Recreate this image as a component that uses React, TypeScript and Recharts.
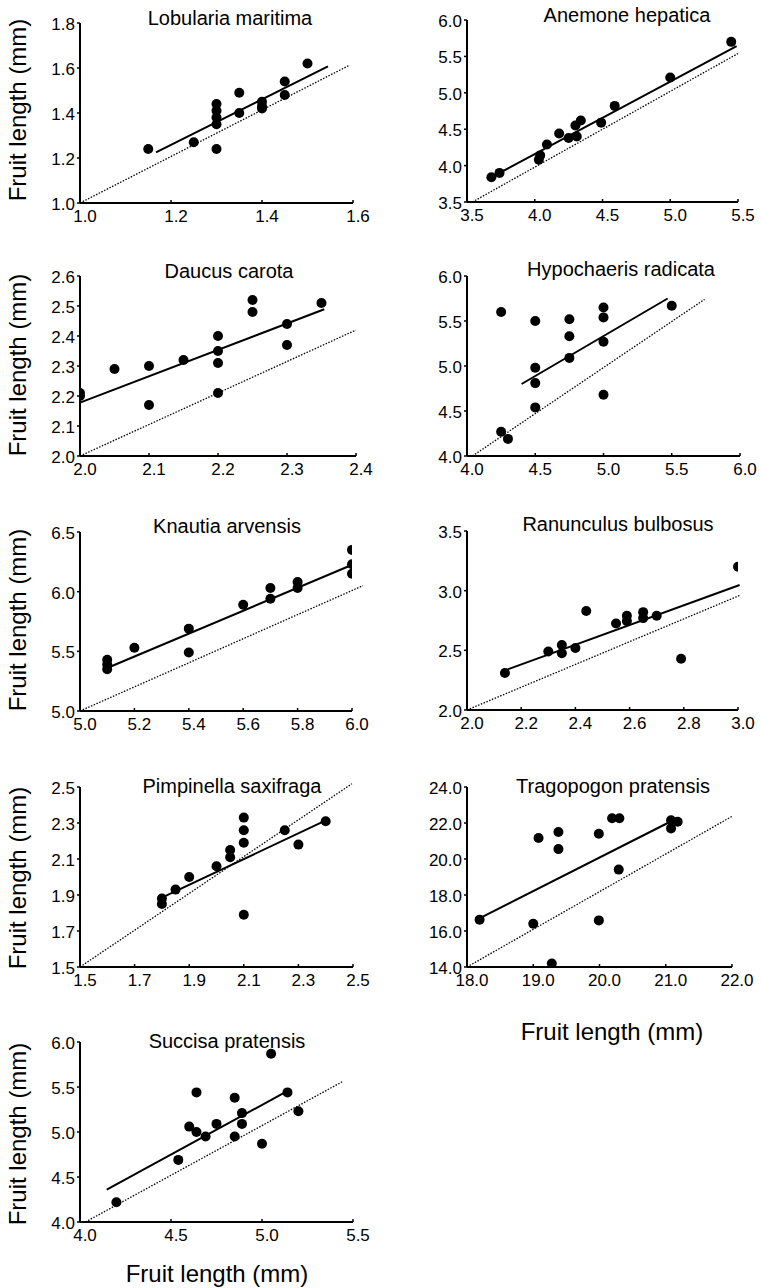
import React from 'react';
import { ScatterChart, Scatter, XAxis, YAxis, ReferenceLine } from 'recharts';

// Lobularia maritima
const lobulariaX = [1.15, 1.25, 1.3, 1.3, 1.3, 1.3, 1.3, 1.35, 1.35, 1.4, 1.4, 1.4, 1.45, 1.45, 1.5];
const lobulariaY = [1.24, 1.27, 1.24, 1.44, 1.41, 1.38, 1.35, 1.49, 1.4, 1.45, 1.43, 1.42, 1.54, 1.48, 1.62];
const lobulariaFitX = [1.167, 1.545];
const lobulariaFitY = [1.225, 1.607];
const lobulariaRefX = [1.0, 1.59];
const lobulariaRefY = [1.0, 1.61];
const lobulariaXTicks = [1.0, 1.2, 1.4, 1.6];
const lobulariaYTicks = [1.0, 1.2, 1.4, 1.6, 1.8];

// Anemone hepatica
const anemoneX = [3.68, 3.74, 4.03, 4.04, 4.09, 4.18, 4.25, 4.31, 4.3, 4.34, 4.49, 4.59, 5.0, 5.45];
const anemoneY = [3.84, 3.9, 4.08, 4.14, 4.29, 4.44, 4.38, 4.4, 4.55, 4.62, 4.59, 4.82, 5.21, 5.7];
const anemoneFitX = [3.67, 5.49];
const anemoneFitY = [3.83, 5.64];
const anemoneRefX = [3.54, 5.5];
const anemoneRefY = [3.5, 5.54];
const anemoneXTicks = [3.5, 4.0, 4.5, 5.0, 5.5];
const anemoneYTicks = [3.5, 4.0, 4.5, 5.0, 5.5, 6.0];

// Daucus carota
const daucusX = [2.0, 2.0, 2.05, 2.1, 2.1, 2.15, 2.2, 2.2, 2.2, 2.2, 2.25, 2.25, 2.3, 2.3, 2.35];
const daucusY = [2.21, 2.2, 2.29, 2.3, 2.17, 2.32, 2.4, 2.35, 2.31, 2.21, 2.52, 2.48, 2.44, 2.37, 2.51];
const daucusFitX = [2.0, 2.354];
const daucusFitY = [2.178, 2.489];
const daucusRefX = [2.0, 2.4];
const daucusRefY = [2.0, 2.42];
const daucusXTicks = [2.0, 2.1, 2.2, 2.3, 2.4];
const daucusYTicks = [2.0, 2.1, 2.2, 2.3, 2.4, 2.5, 2.6];

// Hypochaeris radicata
const hypochaerisX = [4.25, 4.25, 4.3, 4.5, 4.5, 4.5, 4.5, 4.75, 4.75, 4.75, 5.0, 5.0, 5.0, 5.0, 5.5];
const hypochaerisY = [5.6, 4.27, 4.19, 5.5, 4.98, 4.81, 4.54, 5.52, 5.33, 5.09, 5.65, 5.54, 5.27, 4.68, 5.67];
const hypochaerisFitX = [4.4, 5.47];
const hypochaerisFitY = [4.8, 5.75];
const hypochaerisRefX = [4.04, 5.74];
const hypochaerisRefY = [4.0, 5.74];
const hypochaerisXTicks = [4.0, 4.5, 5.0, 5.5, 6.0];
const hypochaerisYTicks = [4.0, 4.5, 5.0, 5.5, 6.0];

// Knautia arvensis
const knautiaX = [5.1, 5.1, 5.1, 5.2, 5.4, 5.4, 5.6, 5.7, 5.7, 5.8, 5.8, 6.0, 6.0, 6.0];
const knautiaY = [5.43, 5.39, 5.35, 5.53, 5.69, 5.49, 5.89, 6.03, 5.94, 6.08, 6.03, 6.35, 6.23, 6.15];
const knautiaFitX = [5.1, 5.99];
const knautiaFitY = [5.36, 6.215];
const knautiaRefX = [5.0, 6.04];
const knautiaRefY = [5.0, 6.05];
const knautiaXTicks = [5.0, 5.2, 5.4, 5.6, 5.8, 6.0];
const knautiaYTicks = [5.0, 5.5, 6.0, 6.5];

// Ranunculus bulbosus
const ranunculusX = [2.14, 2.3, 2.35, 2.35, 2.4, 2.44, 2.55, 2.59, 2.59, 2.65, 2.65, 2.7, 2.79, 3.0];
const ranunculusY = [2.31, 2.49, 2.545, 2.475, 2.52, 2.83, 2.725, 2.79, 2.745, 2.82, 2.77, 2.79, 2.43, 3.2];
const ranunculusFitX = [2.15, 3.006];
const ranunculusFitY = [2.34, 3.047];
const ranunculusRefX = [2.0, 3.006];
const ranunculusRefY = [2.0, 2.96];
const ranunculusXTicks = [2.0, 2.2, 2.4, 2.6, 2.8, 3.0];
const ranunculusYTicks = [2.0, 2.5, 3.0, 3.5];

// Pimpinella saxifraga
const pimpinellaX = [1.8, 1.8, 1.85, 1.9, 2.0, 2.05, 2.05, 2.1, 2.1, 2.1, 2.1, 2.25, 2.3, 2.4];
const pimpinellaY = [1.88, 1.85, 1.93, 2.0, 2.06, 2.15, 2.11, 2.33, 2.26, 2.19, 1.79, 2.26, 2.18, 2.31];
const pimpinellaFitX = [1.8, 2.408];
const pimpinellaFitY = [1.885, 2.32];
const pimpinellaRefX = [1.5, 2.496];
const pimpinellaRefY = [1.5, 2.518];
const pimpinellaXTicks = [1.5, 1.7, 1.9, 2.1, 2.3, 2.5];
const pimpinellaYTicks = [1.5, 1.7, 1.9, 2.1, 2.3, 2.5];

// Tragopogon pratensis
const tragopogonX = [18.19, 19.0, 19.08, 19.28, 19.38, 19.38, 19.99, 19.99, 20.19, 20.3, 20.29, 21.08, 21.08, 21.18];
const tragopogonY = [16.63, 16.4, 21.17, 14.19, 21.5, 20.55, 21.4, 16.59, 22.26, 22.26, 19.41, 22.15, 21.7, 22.07];
const tragopogonFitX = [18.15, 21.03];
const tragopogonFitY = [16.63, 22.0];
const tragopogonRefX = [18.0, 22.0];
const tragopogonRefY = [14.0, 22.37];
const tragopogonXTicks = [18.0, 19.0, 20.0, 21.0, 22.0];
const tragopogonYTicks = [14.0, 16.0, 18.0, 20.0, 22.0, 24.0];

// Succisa pratensis
const succisaX = [4.2, 4.54, 4.6, 4.64, 4.64, 4.69, 4.75, 4.85, 4.85, 4.89, 4.89, 5.0, 5.05, 5.14, 5.2];
const succisaY = [4.22, 4.69, 5.06, 5.44, 5.0, 4.95, 5.09, 5.38, 4.95, 5.21, 5.09, 4.87, 5.87, 5.44, 5.23];
const succisaFitX = [4.147, 5.126];
const succisaFitY = [4.36, 5.44];
const succisaRefX = [4.03, 5.447];
const succisaRefY = [4.0, 5.565];
const succisaXTicks = [4.0, 4.5, 5.0, 5.5];
const succisaYTicks = [4.0, 4.5, 5.0, 5.5, 6.0];

const FONT = '"Liberation Sans", Arial, Helvetica, sans-serif';
const AXIS_TITLE = 'Fruit length (mm)';

// chart margins around the plot box (left = margin.left + YAxis width, bottom = margin.bottom + XAxis height)
const ML = 50;
const MT = 30;
const MR = 25;
const MB = 30;

const XTick = (props: any) => {
  const { x, y, payload } = props;
  return (
    <g>
      <line x1={x} y1={y} x2={x} y2={y - 3} stroke="#000" strokeWidth={1.5} />
      <text x={x + 5} y={y + 19} textAnchor="middle" fontSize={17} fontFamily={FONT} fill="#000">
        {Number(payload.value).toFixed(1)}
      </text>
    </g>
  );
};

const YTick = (props: any) => {
  const { x, y, payload } = props;
  return (
    <g>
      <line x1={x} y1={y} x2={x - 3} y2={y} stroke="#000" strokeWidth={1.5} />
      <text x={x - 5} y={y + 7} textAnchor="end" fontSize={17} fontFamily={FONT} fill="#000">
        {Number(payload.value).toFixed(1)}
      </text>
    </g>
  );
};

const Dot = (props: any) => <circle cx={props.cx} cy={props.cy} r={5} fill="#000" />;

interface PanelProps {
  xs: number[];
  ys: number[];
  fitX: number[];
  fitY: number[];
  refX: number[];
  refY: number[];
  xTicks: number[];
  yTicks: number[];
  box: number[];
}

const Panel: React.FC<PanelProps> = ({ xs, ys, fitX, fitY, refX, refY, xTicks, yTicks, box }) => {
  const [l, t, r, b] = box;
  const points = xs.map((x, i) => ({ x, y: ys[i] }));
  return (
    <div style={{ position: 'absolute', left: l - ML, top: t - MT }}>
      <ScatterChart
        width={r - l + ML + MR}
        height={b - t + MT + MB}
        margin={{ top: MT, right: MR, left: 10, bottom: 5 }}
      >
        <XAxis
          type="number"
          dataKey="x"
          domain={[xTicks[0], xTicks[xTicks.length - 1]]}
          ticks={xTicks}
          interval={0}
          allowDataOverflow
          height={25}
          tickSize={0}
          tickMargin={0}
          tickLine={false}
          axisLine={{ stroke: '#000', strokeWidth: 2 }}
          tick={<XTick />}
        />
        <YAxis
          type="number"
          dataKey="y"
          domain={[yTicks[0], yTicks[yTicks.length - 1]]}
          ticks={yTicks}
          interval={0}
          allowDataOverflow
          width={40}
          tickSize={0}
          tickMargin={0}
          tickLine={false}
          axisLine={{ stroke: '#000', strokeWidth: 2 }}
          tick={<YTick />}
        />
        <ReferenceLine
          segment={[{ x: refX[0], y: refY[0] }, { x: refX[1], y: refY[1] }]}
          stroke="#000"
          strokeWidth={1.3}
          strokeDasharray="1.5 1.5"
          ifOverflow="visible"
        />
        <ReferenceLine
          segment={[{ x: fitX[0], y: fitY[0] }, { x: fitX[1], y: fitY[1] }]}
          stroke="#000"
          strokeWidth={2}
          ifOverflow="visible"
        />
        <Scatter data={points} fill="#000" shape={<Dot />} isAnimationActive={false} />
      </ScatterChart>
    </div>
  );
};

const panels = [
  { title: 'Lobularia maritima', xs: lobulariaX, ys: lobulariaY, fitX: lobulariaFitX, fitY: lobulariaFitY, refX: lobulariaRefX, refY: lobulariaRefY, xTicks: lobulariaXTicks, yTicks: lobulariaYTicks, box: [80, 23, 353, 203], tx: 230, ty: 25, yLabel: 110 },
  { title: 'Anemone hepatica', xs: anemoneX, ys: anemoneY, fitX: anemoneFitX, fitY: anemoneFitY, refX: anemoneRefX, refY: anemoneRefY, xTicks: anemoneXTicks, yTicks: anemoneYTicks, box: [467, 20, 738, 202], tx: 627, ty: 22 },
  { title: 'Daucus carota', xs: daucusX, ys: daucusY, fitX: daucusFitX, fitY: daucusFitY, refX: daucusRefX, refY: daucusRefY, xTicks: daucusXTicks, yTicks: daucusYTicks, box: [80, 276, 356, 456], tx: 229, ty: 278, yLabel: 365 },
  { title: 'Hypochaeris radicata', xs: hypochaerisX, ys: hypochaerisY, fitX: hypochaerisFitX, fitY: hypochaerisFitY, refX: hypochaerisRefX, refY: hypochaerisRefY, xTicks: hypochaerisXTicks, yTicks: hypochaerisYTicks, box: [467, 276, 740, 456], tx: 621, ty: 276 },
  { title: 'Knautia arvensis', xs: knautiaX, ys: knautiaY, fitX: knautiaFitX, fitY: knautiaFitY, refX: knautiaRefX, refY: knautiaRefY, xTicks: knautiaXTicks, yTicks: knautiaYTicks, box: [80, 532, 352, 711], tx: 227, ty: 533, yLabel: 620 },
  { title: 'Ranunculus bulbosus', xs: ranunculusX, ys: ranunculusY, fitX: ranunculusFitX, fitY: ranunculusFitY, refX: ranunculusRefX, refY: ranunculusRefY, xTicks: ranunculusXTicks, yTicks: ranunculusYTicks, box: [467, 531, 738, 710], tx: 618, ty: 531 },
  { title: 'Pimpinella saxifraga', xs: pimpinellaX, ys: pimpinellaY, fitX: pimpinellaFitX, fitY: pimpinellaFitY, refX: pimpinellaRefX, refY: pimpinellaRefY, xTicks: pimpinellaXTicks, yTicks: pimpinellaYTicks, box: [80, 787, 353, 967], tx: 232, ty: 793, yLabel: 878 },
  { title: 'Tragopogon pratensis', xs: tragopogonX, ys: tragopogonY, fitX: tragopogonFitX, fitY: tragopogonFitY, refX: tragopogonRefX, refY: tragopogonRefY, xTicks: tragopogonXTicks, yTicks: tragopogonYTicks, box: [467, 787, 732, 967], tx: 613, ty: 793, xLabel: [612, 1040] },
  { title: 'Succisa pratensis', xs: succisaX, ys: succisaY, fitX: succisaFitX, fitY: succisaFitY, refX: succisaRefX, refY: succisaRefY, xTicks: succisaXTicks, yTicks: succisaYTicks, box: [80, 1042, 353, 1222], tx: 227, ty: 1048, yLabel: 1134, xLabel: [217, 1282] },
];

export default function App() {
  return (
    <div style={{ position: 'absolute', left: 0, top: 0, width: 761, height: 1288, background: '#fff', overflow: 'hidden' }}>
      {panels.map((p) => (
        <Panel key={p.title} {...p} />
      ))}
      <svg width={761} height={1288} style={{ position: 'absolute', left: 0, top: 0, pointerEvents: 'none' }}>
        {panels.map((p) => (
          <g key={p.title} fontFamily={FONT} fill="#000">
            <text x={p.tx} y={p.ty} textAnchor="middle" fontSize={20}>{p.title}</text>
            {p.yLabel !== undefined && (
              <text transform={`translate(26, ${p.yLabel}) rotate(-90)`} textAnchor="middle" fontSize={24}>
                {AXIS_TITLE}
              </text>
            )}
            {p.xLabel && (
              <text x={p.xLabel[0]} y={p.xLabel[1]} textAnchor="middle" fontSize={24}>
                {AXIS_TITLE}
              </text>
            )}
          </g>
        ))}
      </svg>
    </div>
  );
}
